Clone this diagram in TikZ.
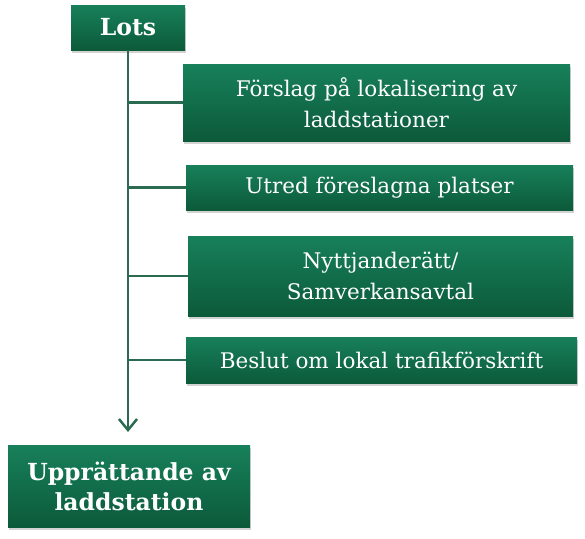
\documentclass[tikz,border=0pt]{standalone}
\usepackage{fontspec}
\setmainfont{DejaVu Serif}
\usetikzlibrary{arrows.meta,shadows}
\definecolor{boxtop}{HTML}{17805A}
\definecolor{boxbot}{HTML}{0C5A3A}
\definecolor{spine}{HTML}{2B6B52}

\begin{document}
\begin{tikzpicture}[x=1pt,y=-1pt,
	stepbox/.style={top color=boxtop, bottom color=boxbot, draw=none, text=white,
		align=center, inner sep=0pt, font=\fontsize{21.5}{31}\selectfont,
		drop shadow={shadow xshift=1pt, shadow yshift=-2.5pt, opacity=0.35}},
	headbox/.style={stepbox, font=\fontsize{23.5}{30}\selectfont\bfseries},
	branch/.style={draw=spine, line width=2.5pt}]
	\useasboundingbox (0,0) rectangle (585,538);
	% start and end
	\node[headbox, minimum width=114pt, minimum height=45pt] (lots) at (128,27.5) {Lots};
	\node[headbox, minimum width=242pt, minimum height=82pt] (upp) at (129,486) {Upprättande av\\laddstation};
	% steps along the way
	\node[stepbox, minimum width=387pt, minimum height=77pt] (s1) at (376.5,102.5) {Förslag på lokalisering av\\laddstationer};
	\node[stepbox, minimum width=387pt, minimum height=45pt] (s2) at (379.5,187.5) {Utred föreslagna platser};
	\node[stepbox, minimum width=385pt, minimum height=80pt] (s3) at (380.5,276) {Nyttjanderätt/\\Samverkansavtal};
	\node[stepbox, minimum width=391pt, minimum height=46pt] (s4) at (381.5,360) {Beslut om lokal trafikförskrift};
	% spine with arrow
	\coordinate (tip) at (128,432);
	\draw[branch, -{Straight Barb[length=11pt, width=18pt, line width=2.5pt]}] (lots.south) -- (tip);
	% branches
	\foreach \s in {s1,s2,s3,s4}
		\draw[branch] (\s.west) -- (lots.south |- \s.west);
\end{tikzpicture}
\end{document}
